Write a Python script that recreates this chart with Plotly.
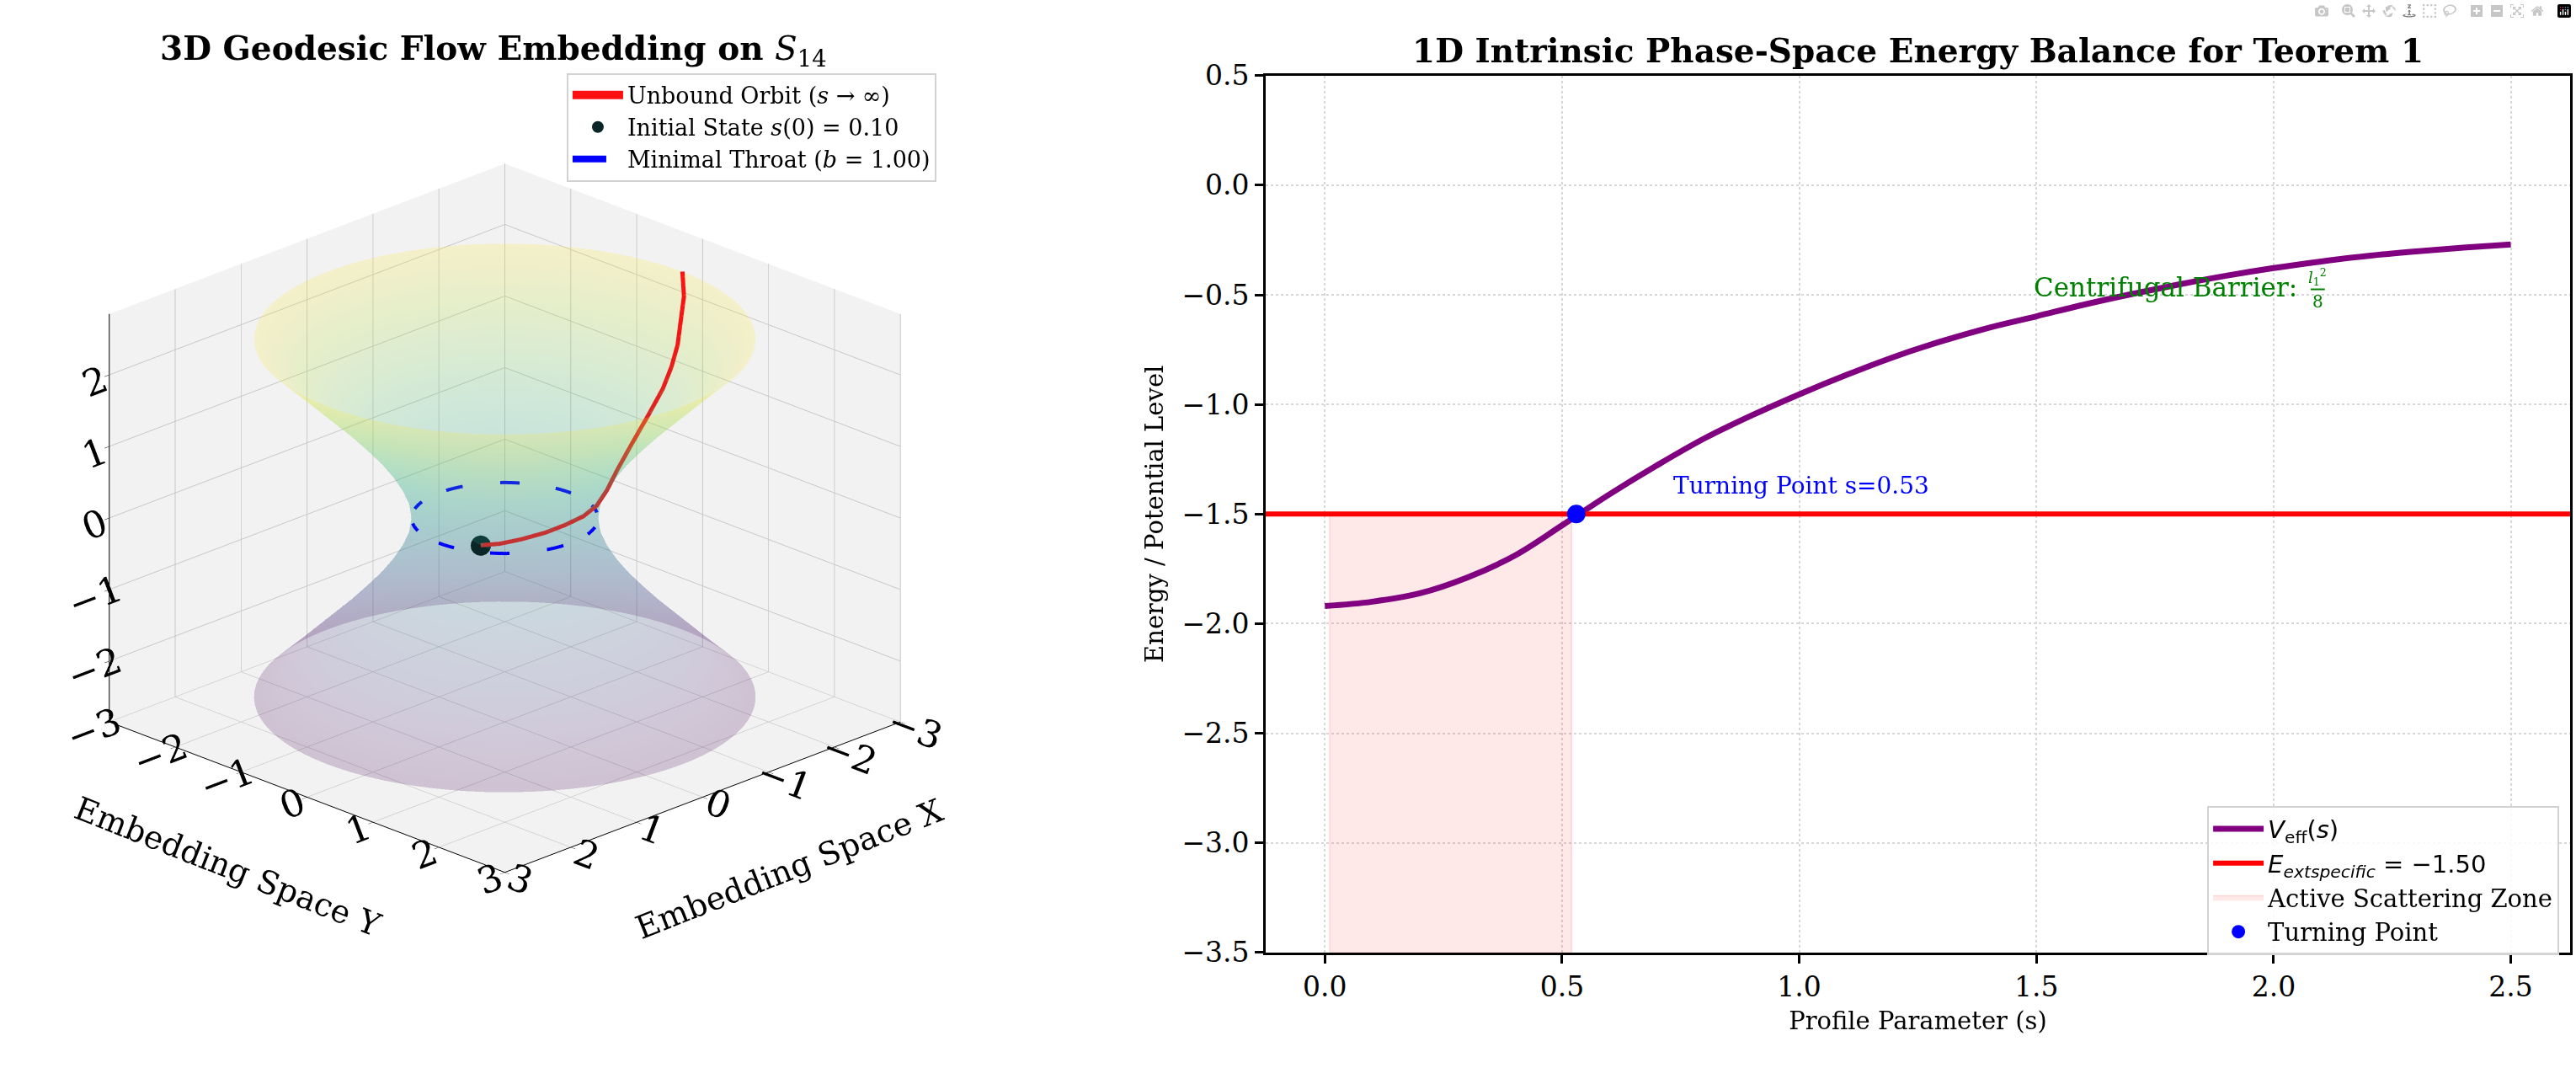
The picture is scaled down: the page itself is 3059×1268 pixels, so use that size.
import numpy as np
import plotly.graph_objects as go

FONT = "DejaVu Serif"

# ---- left panel: wormhole throat profile (z level -> radius) ----
throat_z = [-2.5, -2.25, -2.0, -1.75, -1.5, -1.25, -1.0, -0.75, -0.5, -0.25, 0.0,
            0.25, 0.5, 0.75, 1.0, 1.25, 1.5, 1.75, 2.0, 2.25, 2.5]
throat_r = [2.69, 2.46, 2.24, 2.02, 1.80, 1.60, 1.41, 1.25, 1.12, 1.03, 1.00,
            1.03, 1.12, 1.25, 1.41, 1.60, 1.80, 2.02, 2.24, 2.46, 2.69]
throat_b = 1.00

# unbound orbit (azimuth in degrees, height, radius)
orbit_phi = [30, 42, 55, 70, 83, 98, 112, 124, 135, 143, 150, 155, 160, 165, 170, 175, 180]
orbit_z = [0.10, 0.14, 0.20, 0.26, 0.31, 0.34, 0.38, 0.50, 0.68, 0.95, 1.25, 1.50, 1.70,
           1.89, 2.07, 2.30, 2.50]
orbit_r = [1.005, 1.010, 1.020, 1.033, 1.047, 1.056, 1.070, 1.118, 1.209, 1.379, 1.601,
           1.803, 1.972, 2.140, 2.299, 2.508, 2.693]
s0 = 0.10

xy_ticks = [-3, -2, -1, 0, 1, 2, 3]
z_ticks = [-2, -1, 0, 1, 2]

# ---- right panel: effective potential ----
profile_s = [0.0, 0.1, 0.2, 0.3, 0.4, 0.5, 0.6, 0.7, 0.8, 0.9, 1.0, 1.1, 1.2,
             1.3, 1.4, 1.5, 1.6, 1.7, 1.8, 1.9, 2.0, 2.1, 2.2, 2.3, 2.4, 2.5]
v_eff = [-1.920, -1.900, -1.862, -1.790, -1.690, -1.552, -1.410, -1.278, -1.155,
         -1.050, -0.954, -0.865, -0.783, -0.712, -0.650, -0.598, -0.545, -0.497,
         -0.453, -0.413, -0.378, -0.348, -0.322, -0.302, -0.285, -0.270]
energy = -1.50
turn_s = 0.53
zone_s = [0.01, 0.52]
s_range = [-0.125, 2.625]
v_range = [-3.5, 0.5]
s_ticks = [0.0, 0.5, 1.0, 1.5, 2.0, 2.5]
v_ticks = [-3.5, -3.0, -2.5, -2.0, -1.5, -1.0, -0.5, 0.0, 0.5]

fig = go.Figure()

# surface of revolution
theta = np.linspace(0, 2 * np.pi, 90)
R, T = np.meshgrid(throat_r, theta)
Zs, _ = np.meshgrid(throat_z, theta)
fig.add_trace(go.Surface(
    x=R * np.cos(T), y=R * np.sin(T), z=Zs, surfacecolor=Zs,
    colorscale="Viridis", opacity=0.2, showscale=False,
    lighting=dict(ambient=1, diffuse=0, specular=0, roughness=1, fresnel=0),
    hoverinfo="skip", showlegend=False, scene="scene"))

phi = np.radians(orbit_phi)
ox = np.array(orbit_r) * np.cos(phi)
oy = np.array(orbit_r) * np.sin(phi)
fig.add_trace(go.Scatter3d(
    x=ox, y=oy, z=orbit_z, mode="lines",
    line=dict(width=10, color=orbit_z,
              colorscale=[[0, "#c23434"], [1, "#ff1010"]]),
    showlegend=False, scene="scene", hoverinfo="skip"))
# legend entry for the orbit
fig.add_trace(go.Scatter3d(
    x=[None], y=[None], z=[None], mode="lines", line=dict(width=10, color="#ff1010"),
    name="Unbound Orbit (<i>s</i> → ∞)", legend="legend", scene="scene"))

fig.add_trace(go.Scatter3d(
    x=[ox[0]], y=[oy[0]], z=[orbit_z[0]], mode="markers",
    marker=dict(size=14, color="#0b2626"),
    name=f"Initial State <i>s</i>(0) = {s0:.2f}", legend="legend", scene="scene"))

circ = np.linspace(0, 2 * np.pi, 120)
fig.add_trace(go.Scatter3d(
    x=throat_b * np.cos(circ), y=throat_b * np.sin(circ), z=np.zeros_like(circ),
    mode="lines", line=dict(width=8, color="#0000ff", dash="longdash"),
    name=f"Minimal Throat (<i>b</i> = {throat_b:.2f})", legend="legend", scene="scene"))

# right panel traces
fig.add_trace(go.Scatter(
    x=[zone_s[0], zone_s[1], zone_s[1], zone_s[0], zone_s[0]],
    y=[v_range[0], v_range[0], energy, energy, v_range[0]],
    fill="toself", fillcolor="rgba(255,0,0,0.09)",
    line=dict(width=1.5, color="rgba(255,0,0,0.12)"), mode="lines",
    name="Active Scattering Zone", legend="legend2", hoverinfo="skip", legendrank=3))

fig.add_trace(go.Scatter(
    x=profile_s, y=v_eff, mode="lines", line=dict(color="#800080", width=7, shape="spline"),
    name="<span style='font-family:DejaVu Sans'><i>V</i><sub>eff</sub>(<i>s</i>)</span>",
    legend="legend2", legendrank=1))

fig.add_trace(go.Scatter(
    x=s_range, y=[energy, energy], mode="lines", line=dict(color="#ff0000", width=6),
    name=f"<span style='font-family:DejaVu Sans'><i>E</i><sub><i>extspecific</i></sub> = −{abs(energy):.2f}</span>",
    legend="legend2", legendrank=2))

fig.add_trace(go.Scatter(
    x=[turn_s], y=[energy], mode="markers", marker=dict(color="#0000ff", size=22),
    name="Turning Point", legend="legend2", legendrank=4))

ax3d = dict(
    showbackground=True, backgroundcolor="rgb(242,242,242)",
    gridcolor="rgb(200,200,200)", gridwidth=2,
    showline=True, linecolor="black", linewidth=2,
    ticks="outside", tickcolor="black", ticklen=8,
    zeroline=False, showspikes=False,
    tickfont=dict(family=FONT, size=23, color="black"),
    title=dict(text=""),
)

fig.update_layout(
    width=3059, height=1268, autosize=False,
    margin=dict(l=0, r=0, t=0, b=0),
    paper_bgcolor="white", plot_bgcolor="white",
    font=dict(family=FONT, size=28, color="black"),
    scene=dict(
        domain=dict(x=[0.0, 0.392], y=[0.057, 0.973]),
        xaxis=dict(ax3d, range=[-3, 3], tickvals=xy_ticks),
        yaxis=dict(ax3d, range=[-3, 3], tickvals=xy_ticks),
        zaxis=dict(ax3d, range=[-2.85, 2.85], tickvals=z_ticks),
        aspectmode="manual", aspectratio=dict(x=1.18, y=1.18, z=0.93),
        camera=dict(eye=dict(x=1.17, y=1.17, z=0.68), center=dict(x=0, y=0, z=0),
                    up=dict(x=0, y=0, z=1), projection=dict(type="orthographic")),
    ),
    xaxis=dict(domain=[0.4913, 0.9977], range=s_range, tickvals=s_ticks, tickformat=".1f",
               showline=True, mirror=True, linecolor="black", linewidth=2.5,
               ticks="outside", ticklen=10, tickwidth=2.5, tickcolor="black",
               showgrid=True, gridcolor="rgb(215,215,215)", gridwidth=2, griddash="dot",
               zeroline=False, tickfont=dict(size=33),
               title=dict(text="Profile Parameter (s)", font=dict(size=29), standoff=12)),
    yaxis=dict(domain=[0.0954, 0.9424], range=v_range, tickvals=v_ticks, tickformat=".1f",
               showline=True, mirror=True, linecolor="black", linewidth=2.5,
               ticks="outside", ticklen=10, tickwidth=2.5, tickcolor="black",
               showgrid=True, gridcolor="rgb(215,215,215)", gridwidth=2, griddash="dot",
               zeroline=False, tickfont=dict(size=33),
               title=dict(text="Energy / Potential Level", font=dict(size=29), standoff=14)),
    legend=dict(x=0.3635, xanchor="right", y=0.945, yanchor="top",
                bgcolor="rgba(255,255,255,0.85)", bordercolor="rgb(210,210,210)", borderwidth=2,
                font=dict(family=FONT, size=27), itemwidth=60),
    legend2=dict(x=0.9935, xanchor="right", y=0.093, yanchor="bottom",
                 bgcolor="rgba(255,255,255,0.85)", bordercolor="rgb(210,210,210)", borderwidth=2,
                 font=dict(family=FONT, size=29), itemwidth=60),
)

# 3D axis titles laid along the floor edges, as in the reference
fig.add_annotation(text="Embedding Space Y", x=0.0883, y=0.178, xref="paper", yref="paper",
                   showarrow=False, textangle=21.6, font=dict(family=FONT, size=38),
                   xanchor="center", yanchor="middle")
fig.add_annotation(text="Embedding Space X", x=0.3063, y=0.176, xref="paper", yref="paper",
                   showarrow=False, textangle=-21.6, font=dict(family=FONT, size=38),
                   xanchor="center", yanchor="middle")

fig.add_annotation(text="<b>3D Geodesic Flow Embedding on </b><i>S</i><sub>14</sub>",
                   x=0.1915, y=0.967, xref="paper", yref="paper", showarrow=False,
                   font=dict(family=FONT, size=39), xanchor="center", yanchor="middle")
fig.add_annotation(text="<b>1D Intrinsic Phase-Space Energy Balance for Teorem 1</b>",
                   x=0.7445, y=0.967, xref="paper", yref="paper", showarrow=False,
                   font=dict(family=FONT, size=39), xanchor="center", yanchor="middle")

fig.add_annotation(text=f"Turning Point s={turn_s:.2f}", x=0.73, y=-1.37, xref="x", yref="y",
                   showarrow=False, xanchor="left", yanchor="middle",
                   font=dict(family=FONT, size=28, color="#0000ff"))
fig.add_annotation(text="Centrifugal Barrier:", x=1.49, y=-0.465, xref="x", yref="y",
                   showarrow=False, xanchor="left", yanchor="middle",
                   font=dict(family=FONT, size=31, color="#008000"))
fig.add_annotation(text="<i>l</i><sub>1</sub><sup>2</sup>", x=2.093, y=-0.42, xref="x", yref="y",
                   showarrow=False, xanchor="center", yanchor="middle",
                   font=dict(family=FONT, size=18, color="#008000"))
fig.add_annotation(text="8", x=2.093, y=-0.53, xref="x", yref="y",
                   showarrow=False, xanchor="center", yanchor="middle",
                   font=dict(family=FONT, size=20, color="#008000"))
fig.add_shape(type="line", x0=2.078, x1=2.108, y0=-0.475, y1=-0.475, xref="x", yref="y",
              line=dict(color="#008000", width=2))

fig.write_html("out.html", post_script="document.body.style.margin='0';")
